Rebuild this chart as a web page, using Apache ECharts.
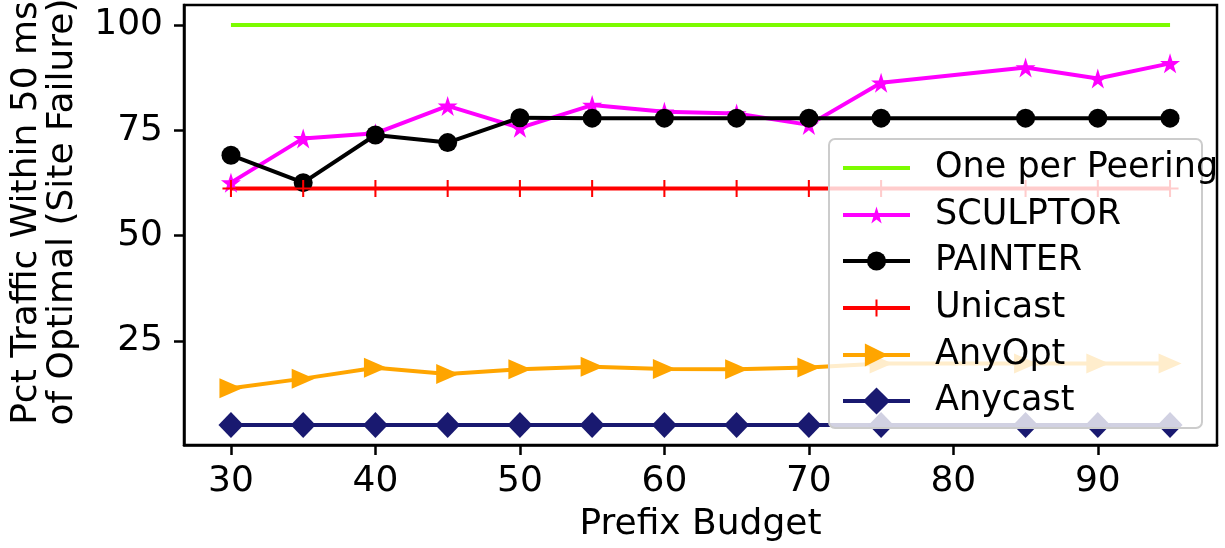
<!DOCTYPE html>
<html>
<head>
<meta charset="utf-8">
<script src="https://cdn.jsdelivr.net/npm/echarts@6/dist/echarts.min.js"></script>
<style>
  html, body { margin: 0; padding: 0; background: #ffffff; }
  #chart { width: 1225px; height: 548px; }
</style>
</head>
<body>
<div id="chart"></div>
<script>
// Prefix budgets on the x axis (no run at 80)
const budgets = [30, 35, 40, 45, 50, 55, 60, 65, 70, 75, 85, 90, 95];

// Percent of traffic within 50 ms of optimal under site failure
const onePerPeering = [100, 100, 100, 100, 100, 100, 100, 100, 100, 100, 100, 100, 100];
const sculptor = [62.6, 73.1, 74.3, 80.8, 75.6, 81.0, 79.4, 79.0, 76.3, 86.3, 89.9, 87.3, 90.9];
const painter  = [69.1, 62.6, 73.9, 72.1, 78.0, 77.9, 77.9, 77.9, 77.9, 77.9, 77.9, 77.9, 77.9];
const unicast  = [61.2, 61.2, 61.2, 61.2, 61.2, 61.2, 61.2, 61.2, 61.2, 61.2, 61.2, 61.2, 61.2];
const anyOpt   = [13.8, 16.1, 18.7, 17.2, 18.3, 18.9, 18.4, 18.3, 18.75, 19.7, 19.7, 19.7, 19.7];
const anycast  = [5.1, 5.1, 5.1, 5.1, 5.1, 5.1, 5.1, 5.1, 5.1, 5.1, 5.1, 5.1, 5.1];

// Tick labels
const xTicks = [30, 40, 50, 60, 70, 80, 90];
const yTicks = [25, 50, 75, 100];

const FONT = 'DejaVu Sans';
const FS = 36;
const LEGEND_FS = 35;

// Five-pointed star marker outline
function starPath() {
  const pts = [];
  for (let i = 0; i < 10; i++) {
    const r = i % 2 ? 0.382 : 1;
    const a = (-90 + i * 36) * Math.PI / 180;
    pts.push((r * Math.cos(a)).toFixed(4) + ',' + (r * Math.sin(a)).toFixed(4));
  }
  return 'path://M' + pts.join('L') + 'Z';
}
const STAR = starPath();
const PLUS = 'path://M-1.2,-10L1.2,-10L1.2,10L-1.2,10Z M-10,-1.2L10,-1.2L10,1.2L-10,1.2Z';
const TRI_RIGHT = 'path://M-1,-1L1,0L-1,1Z';

function pairs(ys) { return budgets.map((x, i) => [x, ys[i]]); }

// Axis ranges padded 5% around the data
const allY = [].concat(onePerPeering, sculptor, painter, unicast, anyOpt, anycast);
const yLo = Math.min.apply(null, allY), yHi = Math.max.apply(null, allY);
const yPad = (yHi - yLo) * 0.05;
const xLo = Math.min.apply(null, budgets), xHi = Math.max.apply(null, budgets);
const xPad = (xHi - xLo) * 0.05;

const LINE_W = 4;

const seriesDefs = [
  { name: 'One per Peering', data: onePerPeering, color: '#7CFC00', symbol: 'none', size: 0 },
  { name: 'SCULPTOR', data: sculptor, color: '#FF00FF', symbol: STAR, size: 20 },
  { name: 'PAINTER', data: painter, color: '#000000', symbol: 'circle', size: 19 },
  { name: 'Unicast', data: unicast, color: '#FF0000', symbol: PLUS, size: 17 },
  { name: 'AnyOpt', data: anyOpt, color: '#FFA500', symbol: TRI_RIGHT, size: [23, 20] },
  { name: 'Anycast', data: anycast, color: '#191970', symbol: 'diamond', size: [25, 26] }
];

const series = seriesDefs.map((s) => ({
  name: s.name,
  type: 'line',
  data: pairs(s.data),
  symbol: s.symbol,
  symbolSize: s.size,
  showSymbol: s.symbol !== 'none',
  lineStyle: { color: s.color, width: LINE_W, type: 'solid' },
  itemStyle: { color: s.color, borderWidth: 0, opacity: 1 },
  emphasis: { disabled: true },
  z: 2,
  animation: false
}));

// One legend block per entry so each key marker can keep its own size
const legendRowsCenter = [168, 215, 261, 308, 355, 401];
const legendIconHeight = [1, 21, 24, 21, 29, 34];
const legends = seriesDefs.map((s, i) => ({
  data: [s.name],
  orient: 'vertical',
  left: 841,
  top: legendRowsCenter[i] - 18,
  padding: 0,
  itemWidth: 67,
  itemHeight: legendIconHeight[i],
  selectedMode: false,
  z: 5,
  lineStyle: { width: LINE_W },
  textStyle: {
    fontFamily: FONT, fontSize: LEGEND_FS, color: '#000000',
    lineHeight: 36, padding: [0, 0, 0, 20]
  }
}));

const chart = echarts.init(document.getElementById('chart'), null, { renderer: 'canvas' });
chart.setOption({
  animation: false,
  backgroundColor: '#ffffff',
  grid: {
    left: 184, right: 8, top: 5, bottom: 103,
    show: true, borderColor: '#000000', borderWidth: 2.5, backgroundColor: 'transparent'
  },
  xAxis: {
    type: 'value',
    min: xLo - xPad,
    max: xHi + xPad,
    name: 'Prefix Budget',
    nameLocation: 'middle',
    nameGap: 62,
    nameTextStyle: { fontFamily: FONT, fontSize: FS, color: '#000000' },
    axisLine: { show: true, lineStyle: { color: '#000000', width: 2.5 } },
    axisTick: { show: true, length: 10, lineStyle: { color: '#000000', width: 2.5 }, customValues: xTicks },
    axisLabel: { fontFamily: FONT, fontSize: FS, color: '#000000', margin: 19, customValues: xTicks },
    splitLine: { show: false }
  },
  yAxis: {
    type: 'value',
    min: yLo - yPad,
    max: yHi + yPad,
    axisLine: { show: true, lineStyle: { color: '#000000', width: 2.5 } },
    axisTick: { show: true, length: 10, lineStyle: { color: '#000000', width: 2.5 }, customValues: yTicks },
    axisLabel: { fontFamily: FONT, fontSize: FS, color: '#000000', margin: 21, customValues: yTicks },
    splitLine: { show: false }
  },
  legend: legends,
  graphic: [
    {
      // legend frame, translucent so the lines behind show through faintly
      type: 'rect',
      z: 4,
      shape: { x: 829, y: 139, width: 373, height: 289, r: 6 },
      style: { fill: 'rgba(255,255,255,0.8)', stroke: '#cccccc', lineWidth: 2 },
      silent: true
    },
    {
      type: 'text',
      x: 27, y: 213,
      rotation: Math.PI / 2,
      style: { text: 'Pct Traffic Within 50 ms', font: FS + 'px "DejaVu Sans"', fill: '#000000', align: 'center', verticalAlign: 'middle' }
    },
    {
      type: 'text',
      x: 63, y: 212,
      rotation: Math.PI / 2,
      style: { text: 'of Optimal (Site Failure)', font: FS + 'px "DejaVu Sans"', fill: '#000000', align: 'center', verticalAlign: 'middle' }
    }
  ],
  series: series
});
</script>
</body>
</html>
